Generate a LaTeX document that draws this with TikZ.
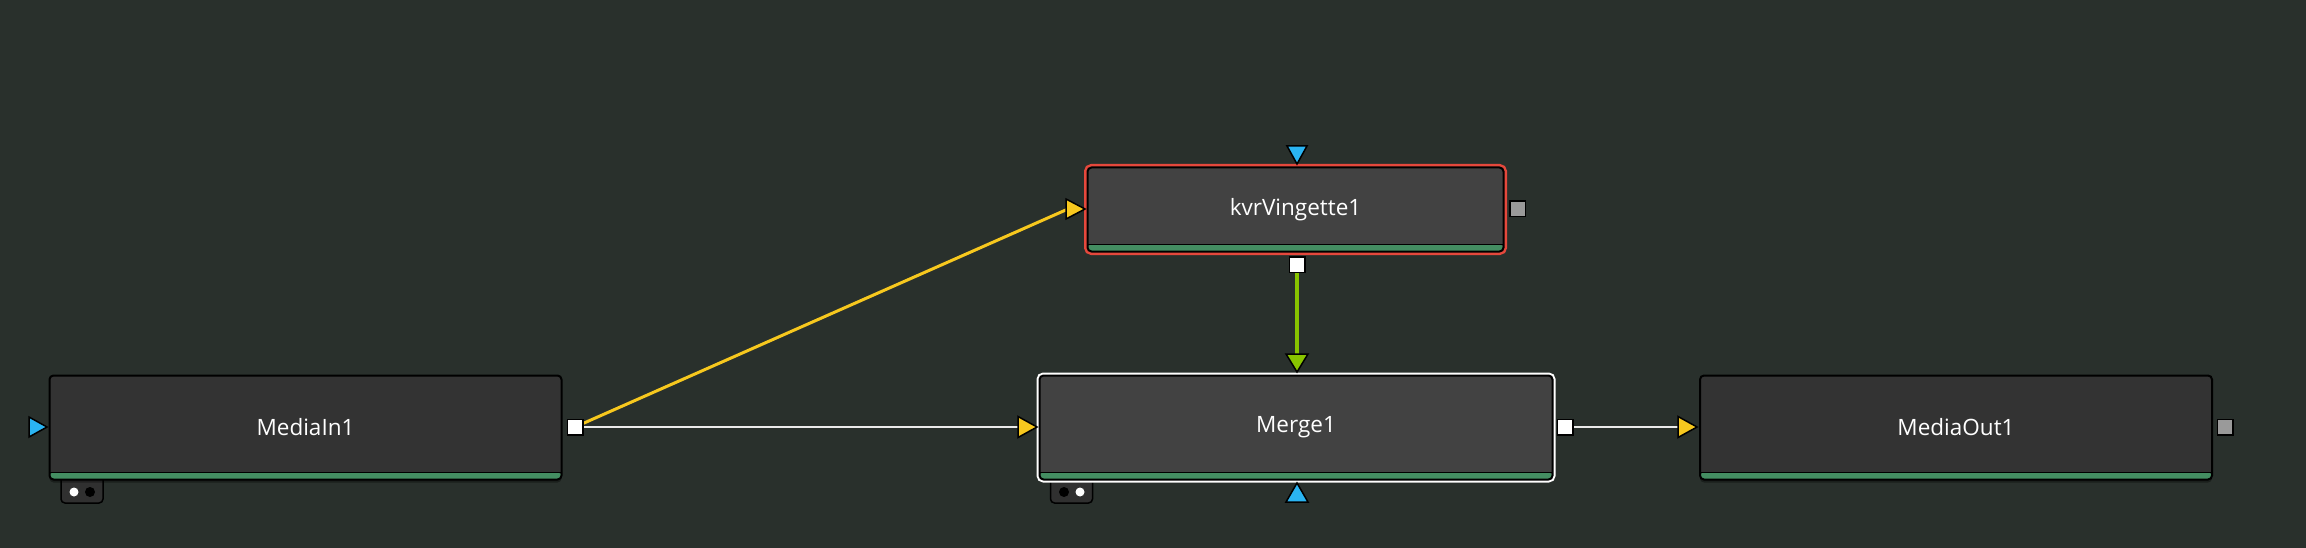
\documentclass[tikz,border=0pt]{standalone}
\usepackage{fontspec}
\setmainfont{Open Sans}
\usetikzlibrary{shadows}
\pgfdeclarelayer{bg}
\pgfsetlayers{bg,main}
\definecolor{bgc}{HTML}{29302C}
\definecolor{nodedark}{HTML}{333333}
\definecolor{nodelight}{HTML}{424242}
\definecolor{barg}{HTML}{448E62}
\definecolor{selred}{HTML}{E5483C}
\definecolor{portblue}{HTML}{2AB4F2}
\definecolor{portyellow}{HTML}{F7C81E}
\definecolor{portgreen}{HTML}{88C400}
\definecolor{portgray}{HTML}{9A9A9A}
\definecolor{wire}{HTML}{EAEAEA}
\definecolor{tabc}{HTML}{303030}
\tikzset{
  tool/.style={rectangle, rounded corners=4pt, draw=black, line width=2pt,
    fill=nodedark, text=white, inner sep=0pt,
    font=\fontsize{22.5}{25}\selectfont,
    drop shadow={shadow xshift=0pt, shadow yshift=-3pt, opacity=0.35, fill=black},
    path picture={
      \fill[barg] ([yshift=7pt]path picture bounding box.south west) rectangle (path picture bounding box.south east);
      \draw[black,line width=1.5pt] ([yshift=7pt]path picture bounding box.south west) -- ([yshift=7pt]path picture bounding box.south east);
    }},
  sqport/.style={rectangle, draw=black, line width=1.5pt, fill=white, minimum size=15.5pt, inner sep=0pt},
  tri/.style={draw=black, line width=1.5pt, line join=miter},
  wirew/.style={draw=wire, line width=2pt},
  tabbox/.style={draw=black, line width=1.5pt, fill=tabc, rounded corners=4pt}
}
\begin{document}
\begin{tikzpicture}[x=1pt,y=-1pt]
\useasboundingbox (0,0) rectangle (2306,548);
\begin{pgfonlayer}{bg}
\fill[bgc] (0,0) rectangle (2306,548);
\end{pgfonlayer}

% tool nodes
\node[tool, minimum width=512pt, minimum height=104pt] (mediain) at (305.5,427.5) {MediaIn1};
\node[tool, fill=nodelight, preaction={draw=selred, line width=7pt}, minimum width=416pt, minimum height=84pt] (vign) at (1295.5,209.5) {kvrVingette1};
\node[tool, fill=nodelight, preaction={draw=white, line width=6pt}, minimum width=513pt, minimum height=104pt] (merge) at (1296,427.5) {Merge1};
\node[tool, minimum width=512pt, minimum height=104pt] (mediaout) at (1956,427.5) {MediaOut1};

% tabs under nodes
\begin{pgfonlayer}{bg}
\draw[tabbox] (61,470) rectangle (103,503);
\fill[white] (74,492) circle (4.5pt);
\fill[black] (90,492) circle (5pt);
\draw[tabbox] (1050.5,470) rectangle (1092.5,503);
\fill[black] (1064,492) circle (5pt);
\fill[white] (1080,492) circle (4.5pt);
\end{pgfonlayer}

% square ports
\node[sqport] (inout) at (575,427) {};
\node[sqport, fill=portgray] (vgray) at (1517.5,208.5) {};
\node[sqport] (vout) at (1297,264.5) {};
\node[sqport] (mout) at (1565,427) {};
\node[sqport, fill=portgray] (ogray) at (2225,427) {};

% triangle ports
\coordinate (inblue) at (47,427);
\draw[tri, fill=portblue] (inblue) -- ++(-18,-10) -- ++(0,20) -- cycle;
\coordinate (vblue) at (1297,164);
\draw[tri, fill=portblue] (vblue) -- ++(-10,-18) -- ++(20,0) -- cycle;
\coordinate (vin) at (1085,209);
\draw[tri, fill=portyellow] (vin) -- ++(-19,-10) -- ++(0,20) -- cycle;
\coordinate (min) at (1037,427);
\draw[tri, fill=portyellow] (min) -- ++(-19,-10.5) -- ++(0,21) -- cycle;
\coordinate (mtop) at (1297,372);
\draw[tri, fill=portgreen] (mtop) -- ++(-11,-18) -- ++(22,0) -- cycle;
\coordinate (mbot) at (1297,483);
\draw[tri, fill=portblue] (mbot) -- ++(-11,19) -- ++(22,0) -- cycle;
\coordinate (oin) at (1697,427);
\draw[tri, fill=portyellow] (oin) -- ++(-19,-10.5) -- ++(0,21) -- cycle;

% connectors
\begin{pgfonlayer}{bg}
\draw[portyellow, line width=3pt] (inout.center) -- ([xshift=-17pt]vin);
\draw[wirew] (inout.center) -- ([xshift=-17pt]min);
\draw[portgreen, line width=4pt] (vout.center) -- ([yshift=16pt]mtop);
\draw[wirew] (mout.center) -- ([xshift=-17pt]oin);
\end{pgfonlayer}
\end{tikzpicture}
\end{document}
